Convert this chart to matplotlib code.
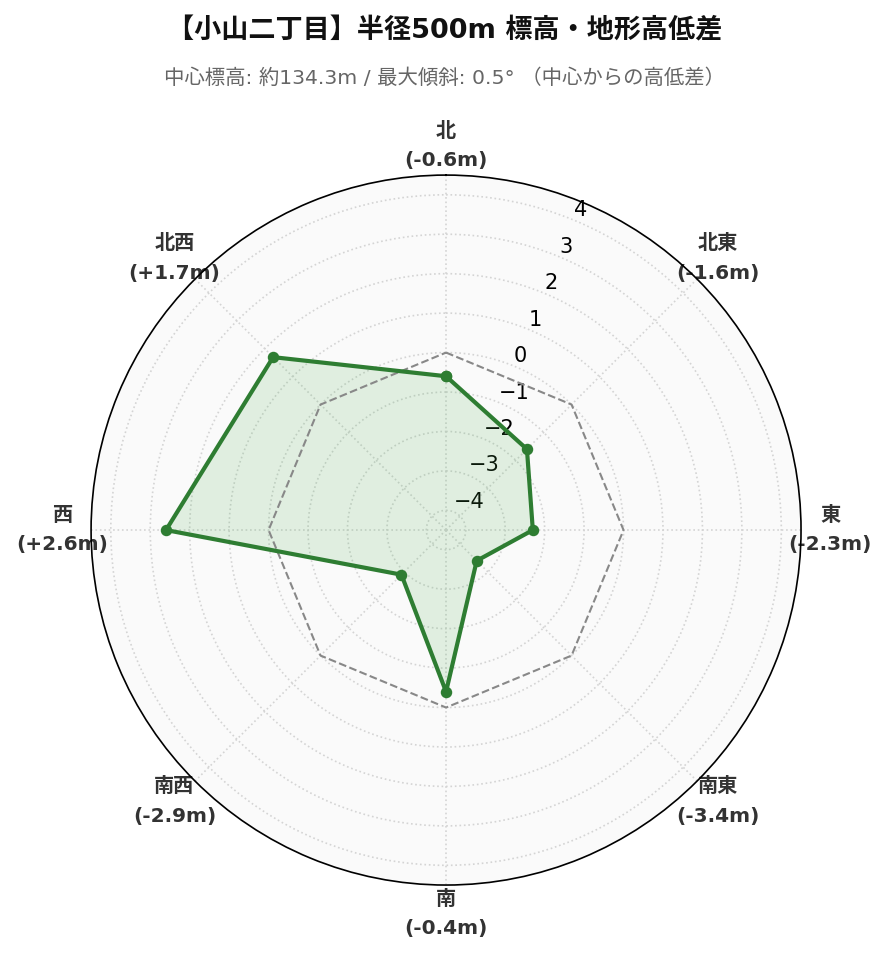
import numpy as np
import matplotlib.pyplot as plt

plt.rcParams['font.family'] = ['DejaVu Sans', 'Noto Sans CJK JP']

directions = ['北', '北東', '東', '南東', '南', '南西', '西', '北西']
diffs = [-0.6, -1.6, -2.3, -3.4, -0.4, -2.9, 2.6, 1.7]
r_ticks = [-4, -3, -2, -1, 0, 1, 2, 3, 4]

title = '【小山二丁目】半径500m 標高・地形高低差'
subtitle = '中心標高: 約134.3m / 最大傾斜: 0.5° （中心からの高低差）'

angles = np.deg2rad(np.arange(len(directions)) * 45.0)
closed_angles = np.append(angles, angles[0])
closed_diffs = np.append(diffs, diffs[0])

fig = plt.figure(figsize=(889 / 150, 962 / 150), dpi=150)
ax = fig.add_axes([0.1024, 0.080, 0.7987, 0.738], projection='polar')
ax.set_theta_zero_location('N')
ax.set_theta_direction(-1)
ax.set_facecolor('#fafafa')
ax.set_ylim(-4.5, 4.5)

# zero line (center elevation)
ax.plot(closed_angles, np.zeros(len(closed_angles)), color='#888888',
        linestyle='--', linewidth=1.0, zorder=3)

ax.fill(closed_angles, closed_diffs, color='#4caf50', alpha=0.15, zorder=2)
ax.plot(closed_angles, closed_diffs, color='#2e7d32', linewidth=2.0,
        marker='o', markersize=4.5, zorder=4)

labels = [f'{d}\n({v:+.1f}m)' for d, v in zip(directions, diffs)]
ax.set_xticks(angles)
ax.set_xticklabels(labels, fontsize=9.7, fontweight='bold', color='#333333')
for lbl in ax.get_xticklabels():
    lbl.set_linespacing(1.7)
ax.tick_params(axis='x', pad=3.5)

ax.set_yticks(r_ticks)
ax.set_yticklabels([str(t).replace('-', '\u2212') for t in r_ticks],
                   fontsize=10, family='DejaVu Sans')
ax.set_rlabel_position(22.5)

ax.grid(True, color='#d4d4d4', linestyle=':', linewidth=0.8)
ax.spines['polar'].set_color('black')
ax.spines['polar'].set_linewidth(0.8)

fig.text(0.5, 0.967, title, ha='center', va='center', fontsize=13,
         fontweight='bold', color='#111111')
fig.text(0.5, 0.919, subtitle, ha='center', va='center', fontsize=9.8,
         color='#666666')

fig.savefig('out.png', dpi=150)
